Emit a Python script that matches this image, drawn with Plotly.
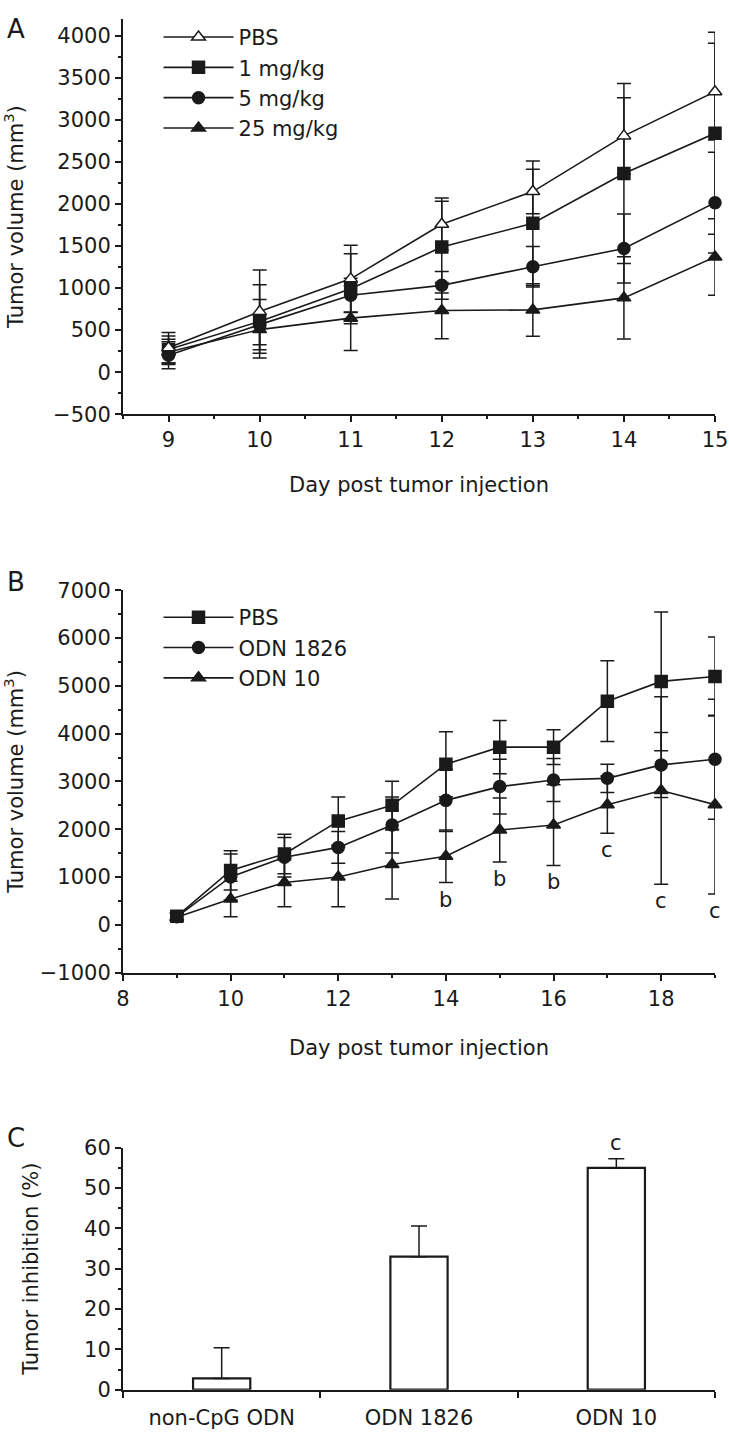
import plotly.graph_objects as go

# ---------------- Panel A data ----------------
days_a = [9, 10, 11, 12, 13, 14, 15]
pbs_a = [290, 720, 1109, 1759, 2147, 2809, 3334]
pbs_a_err = [180, 494, 400, 310, 265, 452, 575]
mg1_a = [270, 603, 992, 1487, 1770, 2362, 2840]
mg1_a_err = [160, 436, 417, 545, 740, 1069, 1200]
mg5_a = [200, 565, 915, 1032, 1253, 1470, 2015]
mg5_a_err = [160, 300, 200, 165, 241, 410, 600]
mg25_a = [240, 506, 642, 732, 740, 883, 1370]
mg25_a_err = [150, 180, 385, 335, 312, 490, 455]

# ---------------- Panel B data ----------------
days_b = [9, 10, 11, 12, 13, 14, 15, 16, 17, 18, 19]
pbs_b = [180, 1141, 1485, 2171, 2502, 3361, 3718, 3718, 4680, 5093, 5196]
pbs_b_err = [80, 412, 412, 502, 502, 680, 557, 364, 846, 1450, 825]
odn1826_b = [170, 1004, 1416, 1622, 2089, 2605, 2893, 3031, 3066, 3347, 3464]
odn1826_b_err = [80, 480, 412, 330, 584, 650, 571, 450, 295, 680, 1255]
odn10_b = [160, 543, 887, 1004, 1265, 1437, 1986, 2089, 2515, 2811, 2515]
odn10_b_err = [80, 370, 508, 625, 722, 550, 670, 845, 600, 1960, 1870]
sig_days_b = [14, 15, 16, 17, 18, 19]
sig_labels_b = ["b", "b", "b", "c", "c", "c"]

# ---------------- Panel C data ----------------
groups_c = ["non-CpG ODN", "ODN 1826", "ODN 10"]
inhib_c = [2.8, 33.0, 55.0]
inhib_c_err = [7.6, 7.6, 2.3]
sig_labels_c = ["", "", "c"]

FONT = "DejaVu Sans"
FS = 21
INK = "#1a1a1a"
H = 1443.0


def pdom(top_px, bot_px):
    return [1 - bot_px / H, 1 - top_px / H]


fig = go.Figure()


def add_line(x, y, err, name, symbol, fill, xa, ya, legend, rank):
    fig.add_trace(go.Scatter(
        x=x, y=y, name=name, mode="lines+markers",
        xaxis=xa, yaxis=ya, legend=legend, legendgroup=name + legend,
        legendrank=rank,
        line=dict(color=INK, width=1.6),
        marker=dict(symbol=symbol, size=12, color=fill,
                    line=dict(color=INK, width=1.5)),
        error_y=dict(type="data", array=err, visible=True, color=INK,
                     thickness=1.5, width=7),
        cliponaxis=False,
    ))


add_line(days_a, mg25_a, mg25_a_err, "25 mg/kg", "triangle-up", INK, "x", "y", "legend", 4)
add_line(days_a, mg5_a, mg5_a_err, "5 mg/kg", "circle", INK, "x", "y", "legend", 3)
add_line(days_a, mg1_a, mg1_a_err, "1 mg/kg", "square", INK, "x", "y", "legend", 2)
add_line(days_a, pbs_a, pbs_a_err, "PBS", "triangle-up", "white", "x", "y", "legend", 1)

add_line(days_b, odn10_b, odn10_b_err, "ODN 10", "triangle-up", INK, "x2", "y2", "legend2", 3)
add_line(days_b, odn1826_b, odn1826_b_err, "ODN 1826", "circle", INK, "x2", "y2", "legend2", 2)
add_line(days_b, pbs_b, pbs_b_err, "PBS", "square", INK, "x2", "y2", "legend2", 1)

fig.add_trace(go.Bar(
    x=groups_c, y=inhib_c, xaxis="x3", yaxis="y3", width=0.29,
    marker=dict(color="white", line=dict(color=INK, width=2.2)),
    error_y=dict(type="data", symmetric=False, array=inhib_c_err,
                 arrayminus=[0] * len(inhib_c_err), color=INK,
                 thickness=1.5, width=8),
    showlegend=False,
))

# significance letters
for d, lab in zip(sig_days_b, sig_labels_b):
    i = days_b.index(d)
    fig.add_annotation(x=d, y=odn10_b[i] - odn10_b_err[i], xref="x2", yref="y2",
                       text=lab, showarrow=False, yanchor="top", yshift=-3,
                       font=dict(family=FONT, size=FS, color=INK))
for g, v, e, lab in zip(groups_c, inhib_c, inhib_c_err, sig_labels_c):
    if lab:
        fig.add_annotation(x=g, y=v + e, xref="x3", yref="y3",
                           text=lab, showarrow=False, yanchor="bottom", yshift=2,
                           font=dict(family=FONT, size=FS, color=INK))

# panel letters
for letter, ypx in [("A", 17), ("B", 580), ("C", 1145)]:
    fig.add_annotation(x=-0.2, y=1 - ypx / H, xref="paper", yref="paper",
                       text=letter, showarrow=False, xanchor="left", yanchor="middle",
                       font=dict(family=FONT, size=26, color=INK))

axis_common = dict(
    showline=True, linecolor=INK, linewidth=2, mirror=False,
    ticks="outside", ticklen=6, tickwidth=1.5, tickcolor=INK,
    showgrid=False, zeroline=False,
    tickfont=dict(family=FONT, size=FS, color=INK),
    title_font=dict(family=FONT, size=FS, color=INK),
)

fig.update_layout(
    width=729, height=1443,
    margin=dict(l=123, r=14, t=0, b=0),
    paper_bgcolor="white", plot_bgcolor="white",
    font=dict(family=FONT, size=FS, color=INK),
    xaxis=dict(**axis_common, domain=[0, 1], anchor="y", range=[8.5, 15],
               tickmode="array", tickvals=days_a,
               minor=dict(dtick=0.5, tick0=8.5, ticklen=3, tickcolor=INK, ticks="outside"),
               title=dict(text="Day post tumor injection", standoff=26)),
    yaxis=dict(**axis_common, domain=pdom(7, 409), anchor="x", range=[-500, 4200],
               dtick=500, tick0=0,
               minor=dict(dtick=250, ticklen=3, tickcolor=INK, ticks="outside"),
               title=dict(text="Tumor volume (mm<sup>3</sup>)", standoff=24)),
    xaxis2=dict(**axis_common, domain=[0, 1], anchor="y2", range=[8, 19],
                tickmode="array", tickvals=[8, 10, 12, 14, 16, 18],
                minor=dict(dtick=1, tick0=8, ticklen=3, tickcolor=INK, ticks="outside"),
                title=dict(text="Day post tumor injection", standoff=30)),
    yaxis2=dict(**axis_common, domain=pdom(588, 977), anchor="x2", range=[-1000, 7000],
                dtick=1000, tick0=0,
                minor=dict(dtick=500, ticklen=3, tickcolor=INK, ticks="outside"),
                title=dict(text="Tumor volume (mm<sup>3</sup>)", standoff=18)),
    xaxis3=dict(**axis_common, domain=[0, 1], anchor="y3", range=[-0.5, 2.5],
                type="category", tickson="boundaries", ticklabelstandoff=8),
    yaxis3=dict(**axis_common, domain=pdom(1155, 1401), anchor="x3", range=[0, 60],
                dtick=10, tick0=0,
                minor=dict(dtick=5, ticklen=3, tickcolor=INK, ticks="outside"),
                title=dict(text="Tumor inhibition (%)", standoff=40)),
    legend=dict(x=0.06, y=1 - 5 / H, xanchor="left", yanchor="top",
                traceorder="normal", tracegroupgap=8, itemwidth=70,
                bgcolor="rgba(0,0,0,0)", font=dict(family=FONT, size=FS, color=INK)),
    legend2=dict(x=0.06, y=1 - 595 / H, xanchor="left", yanchor="top",
                 traceorder="normal", tracegroupgap=8, itemwidth=70,
                 bgcolor="rgba(0,0,0,0)", font=dict(family=FONT, size=FS, color=INK)),
    bargap=0.7,
)

fig.write_html("out.html", config={"displayModeBar": False},
               post_script="document.body.style.margin='0px';document.body.style.overflow='hidden';")
